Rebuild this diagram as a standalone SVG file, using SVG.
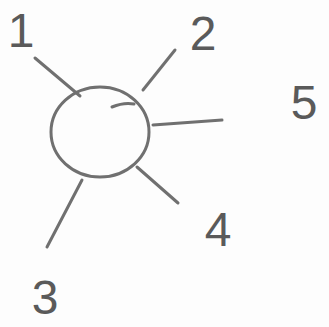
<svg xmlns="http://www.w3.org/2000/svg" width="329" height="327" viewBox="0 0 329 327">
<style>
.ln{stroke:#707070;stroke-width:3;stroke-linecap:round;fill:none}
.lb{font-family:"Liberation Sans",Arial,sans-serif;font-size:48px;fill:#5a5a5a;text-anchor:middle}
</style>
<rect width="329" height="327" fill="#fdfdfd"/>
<g id="hub">
<ellipse class="ln" cx="100" cy="132" rx="49" ry="45"/>
<path class="ln" d="M112 107 Q124 102 134 104" stroke-width="2.5"/>
</g>
<g id="connectors">
<line class="ln" x1="35" y1="58" x2="80" y2="96"/>
<line class="ln" x1="175" y1="50" x2="143" y2="90"/>
<line class="ln" x1="153" y1="125" x2="222" y2="120"/>
<line class="ln" x1="137" y1="167" x2="178" y2="203"/>
<line class="ln" x1="82" y1="180" x2="47" y2="247"/>
</g>
<g id="n1"><text class="lb" x="21" y="47">1</text></g>
<g id="n2"><text class="lb" x="203" y="50">2</text></g>
<g id="n5"><text class="lb" x="304" y="119">5</text></g>
<g id="n4"><text class="lb" x="218" y="246">4</text></g>
<g id="n3"><text class="lb" x="45" y="314">3</text></g>
</svg>
